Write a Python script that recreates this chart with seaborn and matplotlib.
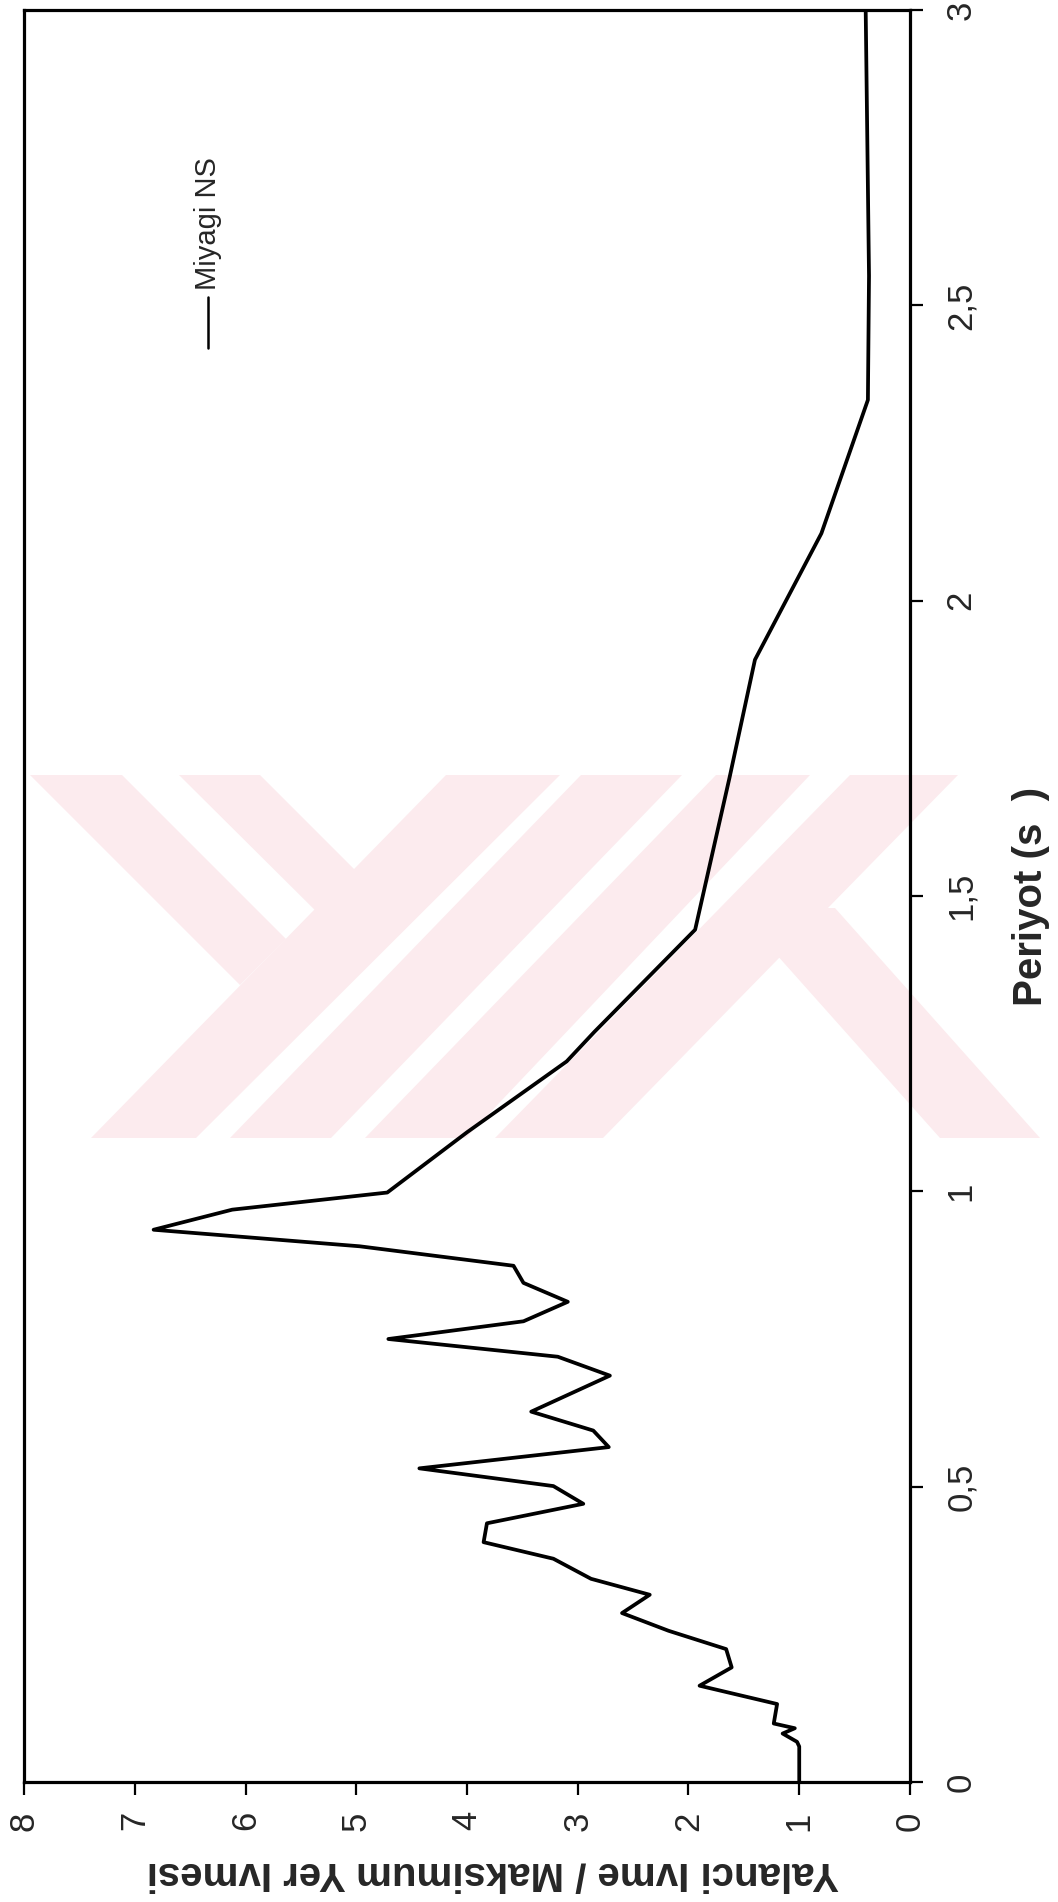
import matplotlib
matplotlib.use("Agg")
import matplotlib.pyplot as plt
from matplotlib.patches import Polygon
import seaborn as sns
import pandas as pd

# Response spectrum (normalised spectral acceleration vs. period)
period = [0.0, 0.06, 0.068, 0.082, 0.091, 0.099, 0.132, 0.163, 0.194, 0.225,
          0.256, 0.286, 0.317, 0.344, 0.378, 0.406, 0.438, 0.471, 0.501, 0.531,
          0.567, 0.595, 0.627, 0.688, 0.720, 0.750, 0.780, 0.813, 0.845, 0.874,
          0.907, 0.935, 0.969, 0.998, 1.10, 1.22, 1.27, 1.443, 1.70, 1.90,
          2.114, 2.34, 2.55, 3.0]
sa_ratio = [1.00, 1.00, 1.02, 1.15, 1.04, 1.23, 1.20, 1.90, 1.61, 1.66,
            2.18, 2.60, 2.35, 2.88, 3.22, 3.85, 3.82, 2.95, 3.22, 4.43,
            2.72, 2.86, 3.42, 2.71, 3.18, 4.71, 3.49, 3.09, 3.49, 3.58,
            4.97, 6.83, 6.12, 4.72, 4.00, 3.10, 2.85, 1.94, 1.63, 1.40,
            0.80, 0.38, 0.37, 0.40]
series_name = "Miyagi NS"

value_ticks = [0, 1, 2, 3, 4, 5, 6, 7, 8]
period_ticks = [0, 0.5, 1, 1.5, 2, 2.5, 3]
period_tick_labels = ["0", "0,5", "1", "1,5", "2", "2,5", "3"]

x_label = "Yalanci Ivme / Maksimum Yer Ivmesi"
y_label = "Periyot (s  )"

W, H = 1058, 1902

sns.set_style("white")
plt.rcParams["font.family"] = ["Liberation Sans", "DejaVu Sans"]

df = pd.DataFrame({"period": period, "sa": sa_ratio})

fig = plt.figure(figsize=(W / 100, H / 100), dpi=100)

# pale pink stamp printed behind the plot (pixel outlines, y measured down)
stamp = [
    [(30, 775), (122, 775), (286, 939), (240, 985)],
    [(179, 775), (260, 775), (380, 895), (340, 935)],
    [(91, 1138), (196, 1138), (560, 775), (446, 775)],
    [(230, 1138), (331, 1138), (682, 775), (581, 775)],
    [(365, 1138), (466, 1138), (810, 775), (716, 775)],
    [(495, 1138), (603, 1138), (958, 775), (850, 775)],
    [(735, 908), (835, 908), (1040, 1138), (940, 1138)],
]
for poly in stamp:
    pts = [(px / W, 1 - py / H) for px, py in poly]
    fig.add_artist(Polygon(pts, closed=True, transform=fig.transFigure,
                           facecolor="#fcebee", edgecolor="none", zorder=-1))

ax = fig.add_axes([0.0227, 0.0631, 0.8374, 0.9316])
ax.set_facecolor("none")

sns.lineplot(data=df, x="sa", y="period", sort=False, estimator=None,
             color="black", linewidth=2.7, ax=ax, legend=False)

ax.set_xlim(8, 0)
ax.set_ylim(0, 3)

for s in ax.spines.values():
    s.set_linewidth(2.3)
    s.set_color("black")

ax.set_xticks(value_ticks)
ax.set_xticklabels([str(v) for v in value_ticks])
ax.set_yticks(period_ticks)
ax.set_yticklabels(period_tick_labels)
ax.yaxis.tick_right()
ax.tick_params(axis="both", direction="out", length=9, width=1.6,
               color="black", labelsize=25)
ax.tick_params(axis="x", bottom=True, pad=12)
ax.tick_params(axis="y", right=True, left=False, pad=16)
for t in ax.get_xticklabels():
    t.set_rotation(90)
for t in ax.get_yticklabels():
    t.set_rotation(90)
    t.set_verticalalignment("center")

ax.set_xlabel(x_label, fontsize=29, fontweight="bold", rotation=180,
              va="center", ha="center")
ax.xaxis.set_label_coords(0.529, -0.0514)
ax.yaxis.set_label_position("right")
ax.set_ylabel(y_label, fontsize=29, fontweight="bold", rotation=90,
              va="center", ha="center")
ax.yaxis.set_label_coords(1.1366, 0.5)

# legend key drawn upright like the rest of the turned page
ax.plot([0.2077, 0.2077], [0.8093, 0.8380], transform=ax.transAxes,
        color="black", linewidth=1.8)
ax.text(0.2077, 0.842, series_name, transform=ax.transAxes, rotation=90,
        ha="center", va="bottom", fontsize=21)

fig.savefig("out.png", dpi=100, facecolor="white")
